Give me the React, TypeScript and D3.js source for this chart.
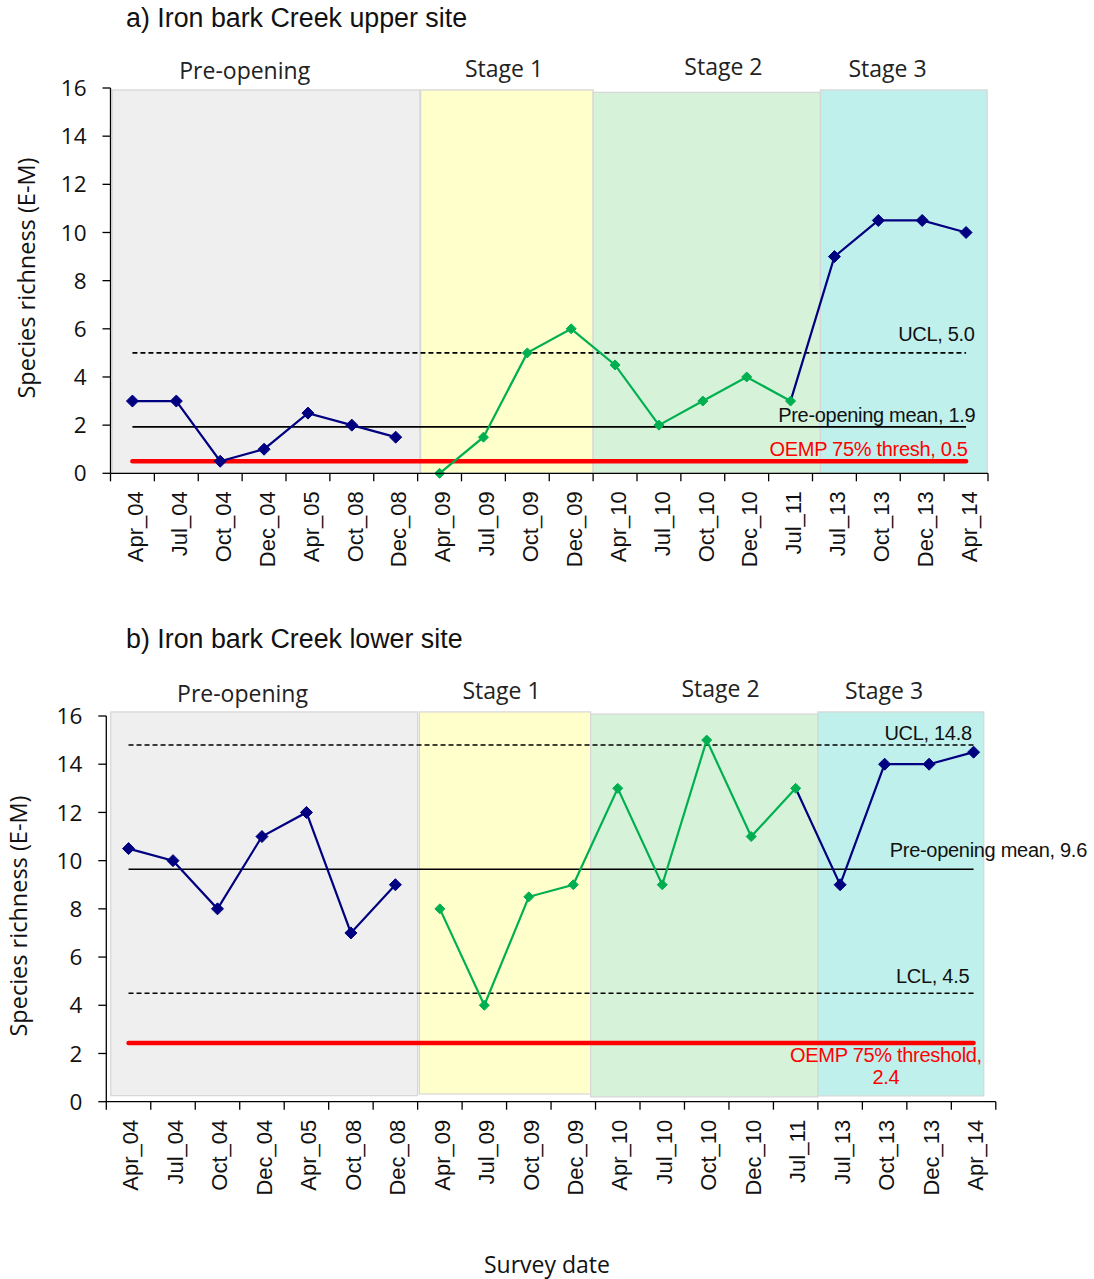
import React from "react";
import * as d3 from "d3";

const categories = [
  "Apr_04", "Jul_04", "Oct_04", "Dec_04", "Apr_05", "Oct_08", "Dec_08",
  "Apr_09", "Jul_09", "Oct_09", "Dec_09",
  "Apr_10", "Jul_10", "Oct_10", "Dec_10", "Jul_11",
  "Jul_13", "Oct_13", "Dec_13", "Apr_14",
];
const upperSite = [3, 3, 0.5, 1, 2.5, 2, 1.5, 0, 1.5, 5, 6, 4.5, 2, 3, 4, 3, 9, 10.5, 10.5, 10];
const lowerSite = [10.5, 10, 8, 11, 12, 7, 9, 8, 4, 8.5, 9, 13, 9, 15, 11, 13, 9, 14, 14, 14.5];
const yTicks = [0, 2, 4, 6, 8, 10, 12, 14, 16];
const stageNames = ["Pre-opening", "Stage 1", "Stage 2", "Stage 3"];
const stageFills = ["#efefef", "#ffffcc", "#d6f3d9", "#bff0ec"];

// series segments (category indices)
const preLine = [0, 1, 2, 3, 4, 5, 6];
const greenLine = [7, 8, 9, 10, 11, 12, 13, 14, 15];
const postLine = [15, 16, 17, 18, 19];
const postMarkers = [16, 17, 18, 19];

// reference values
const upperUCL = 5.0;
const upperOEMP = 0.5;
const lowerUCL = 14.8;
const lowerLCL = 4.5;
const lowerOEMP = 2.44;

const NAVY = "#000080";
const GREEN = "#00b050";
const RED = "#ff0000";
const SANS = "'Liberation Sans', Arial, sans-serif";
const CAL = "'Open Sans', sans-serif";

type Region = { from: number; to: number; top: number; bottom: number };
type RefLine = {
  value: number;
  kind: "dash" | "solid" | "red";
  label: string[];
  anchor: "end" | "middle";
  dx: number;
  dy: number;
  color: string;
};

type PanelProps = {
  title: string;
  titleY: number;
  values: number[];
  x0: number;
  x1: number;
  yTop: number;
  yBottom: number;
  regions: Region[];
  stageLabels: { x: number; y: number }[];
  refs: RefLine[];
  yTitle: { x: number; y: number };
  tickDx: number;
};

function Panel(p: PanelProps) {
  const xBand = d3.scaleBand<string>().domain(categories).range([p.x0, p.x1]).padding(0);
  const xIdx = d3.scaleLinear().domain([0, categories.length]).range([p.x0, p.x1]);
  const y = d3.scaleLinear().domain([0, 16]).range([p.yBottom, p.yTop]);
  const cx = (i: number) => (xBand(categories[i]) as number) + xBand.bandwidth() / 2;
  const line = d3
    .line<number>()
    .x((i) => cx(i))
    .y((i) => y(p.values[i]));
  const diamond = (i: number, r: number, color: string) => {
    const x = cx(i);
    const yy = y(p.values[i]);
    return (
      <path
        key={`m${i}-${color}`}
        d={`M${x},${yy - r}L${x + r},${yy}L${x},${yy + r}L${x - r},${yy}Z`}
        fill={color}
        stroke={color}
        strokeWidth={1}
      />
    );
  };
  const firstX = cx(0);
  const lastX = cx(categories.length - 1);

  return (
    <g>
      <text x={126} y={p.titleY} fontFamily={SANS} fontSize={26.8} fill="#111">
        {p.title}
      </text>
      {p.regions.map((r, i) => (
        <rect
          key={`r${i}`}
          x={xIdx(r.from)}
          y={y(r.top)}
          width={xIdx(r.to) - xIdx(r.from)}
          height={y(r.bottom) - y(r.top)}
          fill={stageFills[i]}
          stroke="#d6d6d6"
          strokeWidth={1.2}
        />
      ))}
      {stageNames.map((s, i) => (
        <text
          key={`s${i}`}
          x={p.stageLabels[i].x}
          y={p.stageLabels[i].y}
          textAnchor="middle"
          fontFamily={CAL}
          fontSize={23}
          fill="#222"
        >
          {s}
        </text>
      ))}
      {/* reference lines */}
      {p.refs.map((r, i) => (
        <line
          key={`ref${i}`}
          x1={firstX}
          x2={lastX}
          y1={y(r.value)}
          y2={y(r.value)}
          stroke={r.kind === "red" ? RED : "#000"}
          strokeWidth={r.kind === "red" ? 4.5 : 1.6}
          strokeDasharray={r.kind === "dash" ? "5,3" : undefined}
          strokeLinecap={r.kind === "red" ? "round" : "butt"}
        />
      ))}
      {/* series */}
      <path d={line(preLine) as string} fill="none" stroke={NAVY} strokeWidth={2.2} />
      <path d={line(greenLine) as string} fill="none" stroke={GREEN} strokeWidth={2.2} />
      <path d={line(postLine) as string} fill="none" stroke={NAVY} strokeWidth={2.2} />
      {preLine.map((i) => diamond(i, 6, NAVY))}
      {greenLine.map((i) => diamond(i, 5, GREEN))}
      {postMarkers.map((i) => diamond(i, 6, NAVY))}
      {/* reference labels */}
      {p.refs.map((r, i) => (
        <text
          key={`rl${i}`}
          x={lastX + r.dx}
          y={y(r.value) + r.dy}
          textAnchor={r.anchor}
          fontFamily={SANS}
          fontSize={20}
          fill={r.color}
          letterSpacing={-0.3}
        >
          {r.label.map((t, k) => (
            <tspan key={k} x={lastX + r.dx} dy={k === 0 ? 0 : 22}>
              {t}
            </tspan>
          ))}
        </text>
      ))}
      {/* y axis */}
      <line x1={p.x0} x2={p.x0} y1={y(16)} y2={y(0)} stroke="#000" strokeWidth={1.3} />
      {yTicks.map((t) => (
        <g key={`yt${t}`}>
          <line x1={p.x0 - 8} x2={p.x0} y1={y(t)} y2={y(t)} stroke="#000" strokeWidth={1.3} />
          <text
            x={p.x0 - 24}
            y={y(t)}
            dy="0.36em"
            textAnchor="end"
            fontFamily={CAL}
            fontSize={22.5}
            fill="#111"
          >
            {t}
          </text>
        </g>
      ))}
      {/* x axis */}
      <line x1={p.x0} x2={p.x1} y1={y(0)} y2={y(0)} stroke="#000" strokeWidth={1.3} />
      {d3.range(categories.length + 1).map((k) => (
        <line
          key={`xt${k}`}
          x1={xIdx(k)}
          x2={xIdx(k)}
          y1={y(0)}
          y2={y(0) + 8}
          stroke="#000"
          strokeWidth={1.3}
        />
      ))}
      {categories.map((c, i) => (
        <text
          key={`xl${c}`}
          transform={`translate(${cx(i) + p.tickDx},${y(0) + 18}) rotate(-90)`}
          dy="0.35em"
          textAnchor="end"
          fontFamily={SANS}
          fontSize={22}
          fill="#111"
        >
          {c}
        </text>
      ))}
      <text
        transform={`translate(${p.yTitle.x},${p.yTitle.y}) rotate(-90)`}
        dy="0.35em"
        textAnchor="middle"
        fontFamily={CAL}
        fontSize={23.5}
        fill="#111"
      >
        Species richness (E-M)
      </text>
    </g>
  );
}

export default function App() {
  const upperMean = d3.mean(upperSite.slice(0, 7)) as number;
  const lowerMean = d3.mean(lowerSite.slice(0, 7)) as number;

  const upperRefs: RefLine[] = [
    { value: upperUCL, kind: "dash", label: [`UCL, ${upperUCL.toFixed(1)}`], anchor: "end", dx: 8.6, dy: -11.6, color: "#111" },
    { value: upperMean, kind: "solid", label: [`Pre-opening mean, ${upperMean.toFixed(1)}`], anchor: "end", dx: 9.3, dy: -5.3, color: "#111" },
    { value: upperOEMP, kind: "red", label: [`OEMP 75% thresh, ${upperOEMP.toFixed(1)}`], anchor: "end", dx: 1.6, dy: -5.3, color: RED },
  ];
  const lowerRefs: RefLine[] = [
    { value: lowerUCL, kind: "dash", label: [`UCL, ${lowerUCL.toFixed(1)}`], anchor: "end", dx: -1.8, dy: -5.3, color: "#111" },
    { value: lowerMean, kind: "solid", label: [`Pre-opening mean, ${lowerMean.toFixed(1)}`], anchor: "end", dx: 113.4, dy: -12, color: "#111" },
    { value: lowerLCL, kind: "dash", label: [`LCL, ${lowerLCL.toFixed(1)}`], anchor: "end", dx: -4.3, dy: -10.6, color: "#111" },
    { value: lowerOEMP, kind: "red", label: ["OEMP 75% threshold,", lowerOEMP.toFixed(1)], anchor: "middle", dx: -87.6, dy: 19.6, color: RED },
  ];

  return (
    <svg
      width={1094}
      height={1279}
      style={{ position: "absolute", left: 0, top: 0, background: "#fff" }}
    >
      <rect x={0} y={0} width={1094} height={1279} fill="#fff" />
      <Panel
        title="a) Iron bark Creek upper site"
        titleY={27}
        values={upperSite}
        x0={110.5}
        x1={988}
        yTop={88}
        yBottom={473.3}
        regions={[
          { from: 0.04, to: 7.05, top: 15.92, bottom: 0 },
          { from: 7.07, to: 11.0, top: 15.92, bottom: 0 },
          { from: 11.0, to: 16.18, top: 15.82, bottom: 0 },
          { from: 16.18, to: 19.98, top: 15.92, bottom: 0 },
        ]}
        stageLabels={[
          { x: 244.7, y: 79 },
          { x: 504, y: 76.7 },
          { x: 723.4, y: 75 },
          { x: 887.5, y: 76.7 },
        ]}
        refs={upperRefs}
        yTitle={{ x: 27, y: 278 }}
        tickDx={3}
      />
      <Panel
        title="b) Iron bark Creek lower site"
        titleY={648}
        values={lowerSite}
        x0={106.3}
        x1={995.8}
        yTop={716}
        yBottom={1101.7}
        regions={[
          { from: 0.1, to: 7.0, top: 16.17, bottom: 0.25 },
          { from: 7.04, to: 10.89, top: 16.17, bottom: 0.32 },
          { from: 10.89, to: 16.0, top: 16.08, bottom: 0.2 },
          { from: 16.0, to: 19.73, top: 16.17, bottom: 0.24 },
        ]}
        stageLabels={[
          { x: 242.5, y: 701.7 },
          { x: 501.5, y: 699.3 },
          { x: 720.5, y: 697.3 },
          { x: 884, y: 699.3 },
        ]}
        refs={lowerRefs}
        yTitle={{ x: 19, y: 916 }}
        tickDx={2}
      />
      <text x={547} y={1272.7} textAnchor="middle" fontFamily={CAL} fontSize={23} fill="#111">
        Survey date
      </text>
    </svg>
  );
}
